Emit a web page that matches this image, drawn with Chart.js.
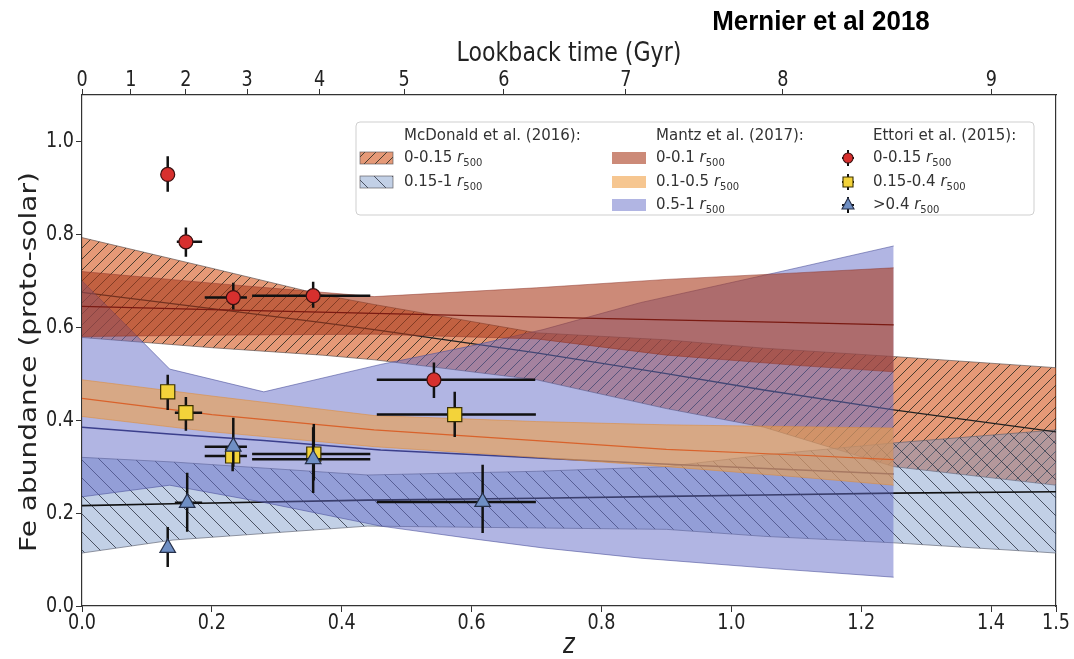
<!DOCTYPE html>
<html>
<head>
<meta charset="utf-8">
<script src="https://cdn.jsdelivr.net/npm/chart.js@4.4.0/dist/chart.umd.min.js"></script>
<style>
  html, body { margin: 0; background: #fff; }
  #wrap { width: 1074px; height: 659px; position: relative; }
</style>
</head>
<body>
<div id="wrap"><canvas id="fe"></canvas></div>
<script>
// axis ticks
const zTicks = [0, 0.2, 0.4, 0.6, 0.8, 1.0, 1.2, 1.4, 1.5];
const feTicks = [0, 0.2, 0.4, 0.6, 0.8, 1.0];
const lookbackGyr = [0, 1, 2, 3, 4, 5, 6, 7, 8, 9];
const lookbackZ = [0, 0.0753, 0.160, 0.2544, 0.3658, 0.4961, 0.6498, 0.8375, 1.0792, 1.4004];

// McDonald et al. (2016) bands
const mcdInnerZ   = [0, 0.2, 0.37, 0.45, 0.7, 0.9, 1.05, 1.25, 1.5];
const mcdInnerHi  = [0.793, 0.727, 0.67, 0.649, 0.588, 0.573, 0.555, 0.537, 0.513];
const mcdInnerMid = [0.675, 0.64, 0.61, 0.595, 0.545, 0.50, 0.465, 0.422, 0.375];
const mcdInnerLo  = [0.578, 0.556, 0.54, 0.53, 0.487, 0.425, 0.385, 0.30, 0.26];

const mcdOuterZ   = [0, 0.14, 0.44, 0.7, 0.9, 1.05, 1.25, 1.5];
const mcdOuterHi  = [0.32, 0.31, 0.282, 0.29, 0.30, 0.325, 0.351, 0.379];
const mcdOuterMid = [0.216, 0.22, 0.228, 0.232, 0.236, 0.239, 0.243, 0.246];
const mcdOuterLo  = [0.114, 0.142, 0.172, 0.168, 0.165, 0.15, 0.136, 0.114];

// Mantz et al. (2017) bands
const mantzRedZ   = [0, 0.2, 0.45, 0.7, 0.9, 1.1, 1.25];
const mantzRedHi  = [0.72, 0.695, 0.666, 0.685, 0.703, 0.717, 0.728];
const mantzRedMid = [0.645, 0.638, 0.63, 0.622, 0.616, 0.61, 0.605];
const mantzRedLo  = [0.58, 0.583, 0.585, 0.575, 0.54, 0.518, 0.504];

const mantzTanZ   = [0, 0.2, 0.45, 0.7, 0.9, 1.1, 1.25];
const mantzTanHi  = [0.487, 0.452, 0.41, 0.397, 0.39, 0.386, 0.383];
const mantzTanMid = [0.447, 0.412, 0.379, 0.356, 0.337, 0.325, 0.315];
const mantzTanLo  = [0.408, 0.375, 0.343, 0.32, 0.30, 0.278, 0.26];

const mantzBlueZ   = [0, 0.135, 0.28, 0.46, 0.6, 0.71, 0.86, 1.07, 1.25];
const mantzBlueHi  = [0.70, 0.51, 0.461, 0.52, 0.56, 0.595, 0.653, 0.718, 0.775];
const mantzBlueMid = [0.385, 0.37, 0.356, 0.336, 0.326, 0.318, 0.308, 0.295, 0.284];
const mantzBlueLo  = [0.235, 0.26, 0.223, 0.172, 0.145, 0.125, 0.103, 0.08, 0.062];

// Ettori et al. (2015) points with error bars
const redZ    = [0.132, 0.160, 0.233, 0.356, 0.542];
const redFe   = [0.929, 0.784, 0.664, 0.668, 0.487];
const redZlo  = [0.132, 0.146, 0.189, 0.262, 0.454];
const redZhi  = [0.132, 0.185, 0.254, 0.444, 0.698];
const redFeLo = [0.892, 0.752, 0.638, 0.642, 0.448];
const redFeHi = [0.968, 0.815, 0.696, 0.698, 0.524];

const yelZ    = [0.132, 0.160, 0.232, 0.357, 0.574];
const yelFe   = [0.461, 0.416, 0.323, 0.327, 0.412];
const yelZlo  = [0.125, 0.143, 0.189, 0.262, 0.454];
const yelZhi  = [0.132, 0.185, 0.254, 0.444, 0.699];
const yelFeLo = [0.422, 0.377, 0.29, 0.27, 0.364];
const yelFeHi = [0.498, 0.45, 0.355, 0.392, 0.461];

const triZ    = [0.132, 0.162, 0.233, 0.356, 0.617];
const triFe   = [0.125, 0.222, 0.343, 0.316, 0.224];
const triZlo  = [0.132, 0.143, 0.189, 0.262, 0.454];
const triZhi  = [0.132, 0.185, 0.254, 0.444, 0.699];
const triFeLo = [0.084, 0.16, 0.30, 0.243, 0.157];
const triFeHi = [0.17, 0.287, 0.405, 0.385, 0.304];

const legendLeft  = ['0-0.15 ', '0.15-1 '];
const legendMid   = ['0-0.1 ', '0.1-0.5 ', '0.5-1 '];
const legendRight = ['0-0.15 ', '0.15-0.4 ', '>0.4 '];

const canvas = document.getElementById('fe');
const mainCtx = canvas.getContext('2d');

function hatch(bg, line, step, dir) {
  const c = document.createElement('canvas');
  c.width = c.height = step;
  const g = c.getContext('2d');
  g.fillStyle = bg;
  g.fillRect(0, 0, step, step);
  g.strokeStyle = line;
  g.lineWidth = 1;
  g.beginPath();
  for (let k = -1; k <= 1; k++) {
    if (dir > 0) { g.moveTo(k * step, step); g.lineTo(k * step + step, 0); }
    else { g.moveTo(k * step, 0); g.lineTo(k * step + step, step); }
  }
  g.stroke();
  return mainCtx.createPattern(c, 'repeat');
}

const innerHatch = hatch('rgba(210,80,20,0.58)', 'rgba(45,45,35,0.85)', 11, 1);
const outerHatch = hatch('rgba(120,150,200,0.45)', 'rgba(45,50,65,0.8)', 18, -1);
const redFill  = 'rgba(170,60,30,0.6)';
const tanFill  = 'rgba(240,160,70,0.6)';
const blueFill = 'rgba(100,108,200,0.5)';

const pts = (zs, vs) => zs.map((z, i) => ({ x: z, y: vs[i] }));

function band(z, hi, lo, fillStyle, edge, ord) {
  return [
    { data: pts(z, hi), fill: '+1', backgroundColor: fillStyle, borderColor: edge,
      borderWidth: 0.8, pointRadius: 0, order: ord },
    { data: pts(z, lo), fill: false, borderColor: edge, borderWidth: 0.8, pointRadius: 0, order: ord - 1 }
  ];
}

function midLine(z, v, color, width, ord) {
  return { data: pts(z, v), fill: false, borderColor: color, borderWidth: width, pointRadius: 0, order: ord };
}

function ettori(z, fe, err, style, radius, fill, edge, ord) {
  return { data: pts(z, fe), showLine: false, pointStyle: style, pointRadius: radius,
    pointBackgroundColor: fill, pointBorderColor: edge, pointBorderWidth: 1.2, order: ord, err: err };
}

const datasets = [
  ...band(mcdInnerZ, mcdInnerHi, mcdInnerLo, innerHatch, 'rgba(90,80,80,0.8)', 100),
  ...band(mcdOuterZ, mcdOuterHi, mcdOuterLo, outerHatch, 'rgba(90,95,110,0.8)', 98),
  midLine(mcdInnerZ, mcdInnerMid, '#222', 1.3, 96),
  midLine(mcdOuterZ, mcdOuterMid, '#111', 1.6, 95),
  ...band(mantzBlueZ, mantzBlueHi, mantzBlueLo, blueFill, 'rgba(70,75,150,0.7)', 90),
  midLine(mantzBlueZ, mantzBlueMid, '#3b3f8c', 1.5, 88),
  ...band(mantzTanZ, mantzTanHi, mantzTanLo, tanFill, 'rgba(220,140,60,0.7)', 80),
  midLine(mantzTanZ, mantzTanMid, '#d9622b', 1.2, 78),
  ...band(mantzRedZ, mantzRedHi, mantzRedLo, redFill, 'rgba(140,50,40,0.6)', 70),
  midLine(mantzRedZ, mantzRedMid, '#7a1a12', 1.2, 68),
  ettori(redZ, redFe, { xLo: redZlo, xHi: redZhi, yLo: redFeLo, yHi: redFeHi }, 'circle', 7, '#d7302e', '#3a1010', 3),
  ettori(yelZ, yelFe, { xLo: yelZlo, xHi: yelZhi, yLo: yelFeLo, yHi: yelFeHi }, 'rect', 10, '#f3d33a', '#3a3000', 2),
  ettori(triZ, triFe, { xLo: triZlo, xHi: triZhi, yLo: triFeLo, yHi: triFeHi }, 'triangle', 9, '#6f8fc4', '#26304a', 1)
];

// error bars under each marker set
const errBars = {
  id: 'errBars',
  beforeDatasetDraw(chart, args) {
    const ds = chart.data.datasets[args.index];
    if (!ds.err) return;
    const { ctx, scales: { x, y }, chartArea: a } = chart;
    ctx.save();
    ctx.beginPath();
    ctx.rect(a.left, a.top, a.right - a.left, a.bottom - a.top);
    ctx.clip();
    ctx.strokeStyle = '#111';
    ctx.lineWidth = 2.5;
    ctx.beginPath();
    ds.data.forEach((p, i) => {
      const px = x.getPixelForValue(p.x), py = y.getPixelForValue(p.y);
      ctx.moveTo(x.getPixelForValue(ds.err.xLo[i]), py);
      ctx.lineTo(x.getPixelForValue(ds.err.xHi[i]), py);
      ctx.moveTo(px, y.getPixelForValue(ds.err.yLo[i]));
      ctx.lineTo(px, y.getPixelForValue(ds.err.yHi[i]));
    });
    ctx.stroke();
    ctx.restore();
  }
};

function txt(ctx, s, x, y, font, sx, align, base, rot) {
  ctx.save();
  ctx.translate(x, y);
  ctx.scale(sx, 1);
  if (rot) ctx.rotate(rot);
  ctx.font = font;
  ctx.textAlign = align;
  ctx.textBaseline = base;
  ctx.fillStyle = '#222';
  ctx.fillText(s, 0, 0);
  ctx.restore();
}

const TICK_FONT = '22px "DejaVu Sans"';
const TITLE_FONT = '26px "DejaVu Sans"';
const SX = 0.8;

// tick labels and axis titles, drawn narrow
const axisText = {
  id: 'axisText',
  afterDraw(chart) {
    const { ctx, scales: { x, x2, y } } = chart;
    x.ticks.forEach(t => txt(ctx, t.value.toFixed(1), x.getPixelForValue(t.value), 629, TICK_FONT, SX, 'center', 'alphabetic'));
    x2.ticks.forEach((t, i) => txt(ctx, String(lookbackGyr[i]), x2.getPixelForValue(t.value), 86, TICK_FONT, SX, 'center', 'alphabetic'));
    y.ticks.forEach(t => txt(ctx, t.value.toFixed(1), 74, y.getPixelForValue(t.value), TICK_FONT, SX, 'right', 'middle'));
    const cx = (x.left + x.right) / 2;
    txt(ctx, 'z', cx, 653, 'italic 28px "DejaVu Sans"', SX, 'center', 'alphabetic');
    txt(ctx, 'Lookback time (Gyr)', cx, 61, TITLE_FONT, 0.85, 'center', 'alphabetic');
    txt(ctx, 'Fe abundance (proto-solar)', 30, 362, '28px "DejaVu Sans"', 0.85, 'center', 'middle', -Math.PI / 2);
    ctx.save();
    ctx.font = 'bold 27px "Liberation Sans"';
    ctx.fillStyle = '#000';
    ctx.translate(821, 30);
    ctx.scale(0.96, 1);
    ctx.textAlign = 'center';
    ctx.fillText('Mernier et al 2018', 0, 0);
    ctx.restore();
  }
};

function rLabel(ctx, prefix, x, y) {
  ctx.fillStyle = '#333';
  ctx.textBaseline = 'middle';
  ctx.textAlign = 'left';
  ctx.font = '15px "DejaVu Sans"';
  ctx.fillText(prefix, x, y);
  let w = ctx.measureText(prefix).width;
  ctx.font = 'italic 15px "DejaVu Sans"';
  ctx.fillText('r', x + w, y);
  w += ctx.measureText('r').width;
  ctx.font = '10px "DejaVu Sans"';
  ctx.fillText('500', x + w, y + 5);
}

function marker(ctx, style, x, y, fill, edge) {
  ctx.strokeStyle = '#111';
  ctx.lineWidth = 2;
  ctx.beginPath();
  ctx.moveTo(x, y - 8); ctx.lineTo(x, y + 8);
  ctx.moveTo(x - 6, y); ctx.lineTo(x + 6, y);
  ctx.stroke();
  ctx.fillStyle = fill;
  ctx.strokeStyle = edge;
  ctx.lineWidth = 1.1;
  ctx.beginPath();
  if (style === 'circle') ctx.arc(x, y, 5, 0, Math.PI * 2);
  else if (style === 'rect') ctx.rect(x - 5, y - 5, 10, 10);
  else { ctx.moveTo(x, y - 7); ctx.lineTo(x + 6, y + 4); ctx.lineTo(x - 6, y + 4); ctx.closePath(); }
  ctx.fill();
  ctx.stroke();
}

const legendBox = {
  id: 'legendBox',
  afterDatasetsDraw(chart) {
    const ctx = chart.ctx;
    const bx = 356, by = 122, bw = 678, bh = 93, r = 4;
    ctx.save();
    ctx.beginPath();
    ctx.roundRect(bx, by, bw, bh, r);
    ctx.fillStyle = 'rgba(255,255,255,0.85)';
    ctx.fill();
    ctx.strokeStyle = '#cfcfcf';
    ctx.lineWidth = 1;
    ctx.stroke();

    const rows = [158, 182, 205];
    ctx.fillStyle = '#333';
    ctx.font = '15px "DejaVu Sans"';
    ctx.textBaseline = 'middle';
    ctx.fillText('McDonald et al. (2016):', 404, 136);
    ctx.fillText('Mantz et al. (2017):', 656, 136);
    ctx.fillText('Ettori et al. (2015):', 873, 136);

    [innerHatch, outerHatch].forEach((p, i) => {
      ctx.fillStyle = '#fff';
      ctx.fillRect(360, rows[i] - 6, 33, 12);
      ctx.fillStyle = p;
      ctx.fillRect(360, rows[i] - 6, 33, 12);
      ctx.strokeStyle = 'rgba(90,85,90,0.8)';
      ctx.lineWidth = 0.8;
      ctx.strokeRect(360, rows[i] - 6, 33, 12);
      rLabel(ctx, legendLeft[i], 404, rows[i]);
    });
    [redFill, tanFill, blueFill].forEach((c, i) => {
      ctx.fillStyle = c;
      ctx.fillRect(612, rows[i] - 6, 34, 12);
      rLabel(ctx, legendMid[i], 656, rows[i]);
    });
    marker(ctx, 'circle', 848, rows[0], '#d7302e', '#3a1010');
    marker(ctx, 'rect', 848, rows[1], '#f3d33a', '#3a3000');
    marker(ctx, 'triangle', 848, rows[2], '#6f8fc4', '#26304a');
    legendRight.forEach((s, i) => rLabel(ctx, s, 873, rows[i]));
    ctx.restore();
  }
};

const tickGrid = { display: true, drawOnChartArea: false, drawTicks: true, tickLength: 6, color: '#333', lineWidth: 1 };
const frame = { display: true, color: '#333', width: 1.2 };

new Chart(canvas, {
  type: 'line',
  data: { datasets },
  options: {
    responsive: true,
    maintainAspectRatio: false,
    animation: false,
    events: [],
    layout: { padding: 0 },
    plugins: { legend: { display: false }, tooltip: { enabled: false } },
    scales: {
      x: {
        type: 'linear', position: 'bottom', min: 0, max: 1.5,
        afterBuildTicks: s => { s.ticks = zTicks.map(v => ({ value: v })); },
        afterFit: s => { s.height = 53; },
        ticks: { display: false }, grid: tickGrid, border: frame
      },
      x2: {
        type: 'linear', position: 'top', min: 0, max: 1.5,
        afterBuildTicks: s => { s.ticks = lookbackZ.map(v => ({ value: v })); },
        afterFit: s => { s.height = 95; },
        ticks: { display: false }, grid: tickGrid, border: frame
      },
      y: {
        type: 'linear', position: 'left', min: 0, max: 1.1,
        afterBuildTicks: s => { s.ticks = feTicks.map(v => ({ value: v })); },
        afterFit: s => { s.width = 82; },
        ticks: { display: false }, grid: tickGrid, border: frame
      },
      y2: {
        type: 'linear', position: 'right', min: 0, max: 1.1,
        afterFit: s => { s.width = 18; },
        ticks: { display: false }, grid: { display: false }, border: frame
      }
    }
  },
  plugins: [errBars, legendBox, axisText]
});
</script>
</body>
</html>
